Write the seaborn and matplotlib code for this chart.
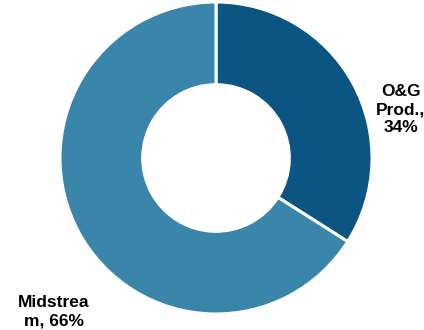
import matplotlib
matplotlib.use("Agg")
import matplotlib.pyplot as plt
import seaborn as sns

# Revenue mix by segment
segments = ["O&G Prod.", "Midstream"]
shares = [34, 66]
label_texts = ["O&G\nProd.,\n34%", "Midstrea\nm, 66%"]
colors = ["#0b5582", "#3a85aa"]

sns.set_theme(style="white")
plt.rcParams["font.family"] = ["Liberation Sans", "DejaVu Sans"]

fig = plt.figure(figsize=(4.24, 3.30), dpi=100)
ax = fig.add_axes([60 / 424, 16 / 330, 312 / 424, 312 / 330])

wedges, _ = ax.pie(
    shares,
    colors=colors,
    startangle=90,
    counterclock=False,
    radius=1.0,
    wedgeprops=dict(width=0.53, edgecolor="white", linewidth=2.2),
)
ax.set_xlim(-1, 1)
ax.set_ylim(-1, 1)
ax.set_aspect("equal")
ax.axis("off")

label_pos = [(1.185, 0.31), (-1.04, -0.985)]
for txt, (x, y) in zip(label_texts, label_pos):
    ax.text(x, y, txt, ha="center", va="center", fontsize=12.5,
            fontweight="bold", color="black", linespacing=1.25, clip_on=False)

fig.savefig("out.png", dpi=100, facecolor="white")
